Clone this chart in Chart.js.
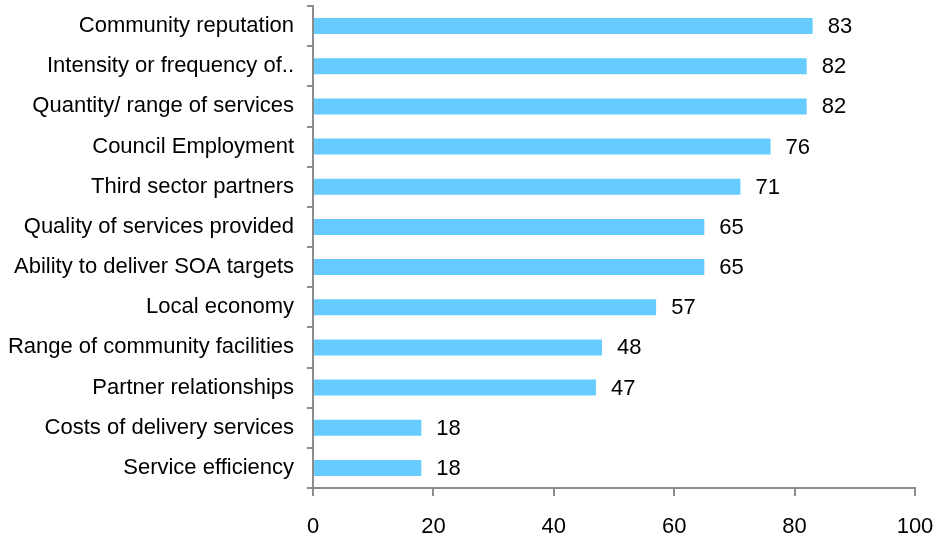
<!DOCTYPE html>
<html>
<head>
<meta charset="utf-8">
<script src="https://cdn.jsdelivr.net/npm/chart.js@4/dist/chart.umd.min.js"></script>
<style>
  html, body { margin: 0; padding: 0; background: #fff; }
  #wrap { width: 939px; height: 537px; }
</style>
</head>
<body>
<div id="wrap"><canvas id="impactChart" width="939" height="537"></canvas></div>
<script>
const categories = [
  "Community reputation",
  "Intensity or frequency of..",
  "Quantity/ range of services",
  "Council Employment",
  "Third sector partners",
  "Quality of services provided",
  "Ability to deliver SOA targets",
  "Local economy",
  "Range of community facilities",
  "Partner relationships",
  "Costs of delivery services",
  "Service efficiency"
];
const scores = [83, 82, 82, 76, 71, 65, 65, 57, 48, 47, 18, 18];
const xMin = 0;
const xMax = 100;
const xStep = 20;

const FONT = "'Liberation Sans', Arial, sans-serif";
const AXIS_GREY = "#8c8c8c";

// writes each bar's value just past its end
const valueLabels = {
  id: "valueLabels",
  afterDatasetsDraw(chart) {
    const ctx = chart.ctx;
    const meta = chart.getDatasetMeta(0);
    ctx.save();
    ctx.font = "22px " + FONT;
    ctx.fillStyle = "#000";
    ctx.textAlign = "left";
    ctx.textBaseline = "middle";
    meta.data.forEach((bar, i) => {
      ctx.fillText(String(scores[i]), bar.x + 15, bar.y + 1);
    });
    ctx.restore();
  }
};

new Chart(document.getElementById("impactChart"), {
  type: "bar",
  data: {
    labels: categories,
    datasets: [{
      data: scores,
      backgroundColor: "#66ccff",
      borderWidth: 0,
      barPercentage: 0.4,
      categoryPercentage: 1.0
    }]
  },
  options: {
    indexAxis: "y",
    responsive: false,
    animation: false,
    layout: { padding: { top: 6, right: 24, bottom: 0, left: 0 } },
    plugins: {
      legend: { display: false },
      tooltip: { enabled: false }
    },
    scales: {
      x: {
        min: xMin,
        max: xMax,
        ticks: {
          stepSize: xStep,
          color: "#000",
          padding: 18,
          font: { family: FONT, size: 22 }
        },
        grid: { drawOnChartArea: false, tickLength: 8, color: AXIS_GREY, lineWidth: 2 },
        border: { color: AXIS_GREY, width: 2 },
        afterFit(scale) {
          scale.height = 49;
          scale.paddingLeft = 0;
          scale.paddingRight = 0;
        }
      },
      y: {
        ticks: {
          color: "#000",
          padding: 13,
          font: { family: FONT, size: 22 }
        },
        grid: { drawOnChartArea: false, tickLength: 6, color: AXIS_GREY, lineWidth: 2 },
        border: { color: AXIS_GREY, width: 2 },
        afterFit(scale) {
          scale.width = 313;
          scale.paddingTop = 0;
          scale.paddingBottom = 0;
        }
      }
    }
  },
  plugins: [valueLabels]
});
</script>
</body>
</html>
